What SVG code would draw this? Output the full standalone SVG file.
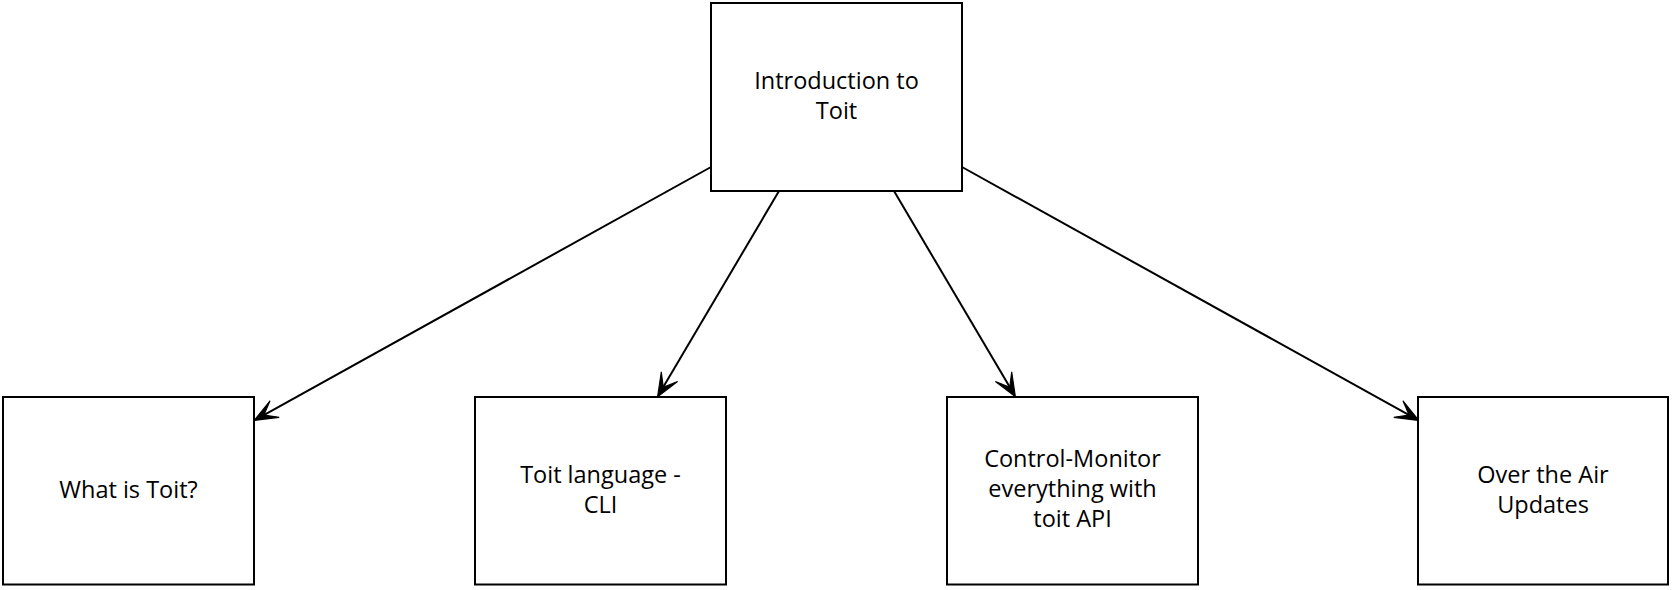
<svg xmlns="http://www.w3.org/2000/svg" width="1675" height="590" viewBox="0 0 1675 590">
<style>
.box{fill:#ffffff;stroke:#000000;stroke-width:2}
.lbl{font-family:"Open Sans","Noto Sans","DejaVu Sans",sans-serif;font-size:23.5px;fill:#000000;text-anchor:middle}
.edge{fill:none;stroke:#000000;stroke-width:2}
</style>
<defs>
<marker id="arr" markerUnits="userSpaceOnUse" markerWidth="30" markerHeight="30" viewBox="-25 -12 27 24" refX="-8" refY="0" orient="auto" overflow="visible">
<path d="M0,0 L-21,-8.5 L-10,0 L-21,8.5 Z" fill="#000000" stroke="#000000" stroke-width="1" stroke-linejoin="miter"/>
</marker>
</defs>
<rect width="1675" height="590" fill="#ffffff"/>
<g id="connectors">
<line class="edge" x1="711" y1="167" x2="262" y2="416.1" marker-end="url(#arr)"/>
<line class="edge" x1="779" y1="191" x2="662.1" y2="389.1" marker-end="url(#arr)"/>
<line class="edge" x1="894" y1="191" x2="1010.9" y2="389.1" marker-end="url(#arr)"/>
<line class="edge" x1="962" y1="167" x2="1411" y2="416.1" marker-end="url(#arr)"/>
</g>
<g id="node-intro">
<rect class="box" x="711" y="3" width="251" height="188"/>
<text class="lbl" x="836.5" y="89">Introduction to</text>
<text class="lbl" x="836.5" y="119">Toit</text>
</g>
<g id="node-what">
<rect class="box" x="3" y="397" width="251" height="187.5"/>
<text class="lbl" x="128.5" y="498">What is Toit?</text>
</g>
<g id="node-cli">
<rect class="box" x="475" y="397" width="251" height="187.5"/>
<text class="lbl" x="600.5" y="483">Toit language -</text>
<text class="lbl" x="600.5" y="513">CLI</text>
</g>
<g id="node-api">
<rect class="box" x="947" y="397" width="251" height="187.5"/>
<text class="lbl" x="1072.5" y="467">Control-Monitor</text>
<text class="lbl" x="1072.5" y="497">everything with</text>
<text class="lbl" x="1072.5" y="527">toit API</text>
</g>
<g id="node-ota">
<rect class="box" x="1418" y="397" width="250" height="187.5"/>
<text class="lbl" x="1543" y="483">Over the Air</text>
<text class="lbl" x="1543" y="513">Updates</text>
</g>
</svg>
